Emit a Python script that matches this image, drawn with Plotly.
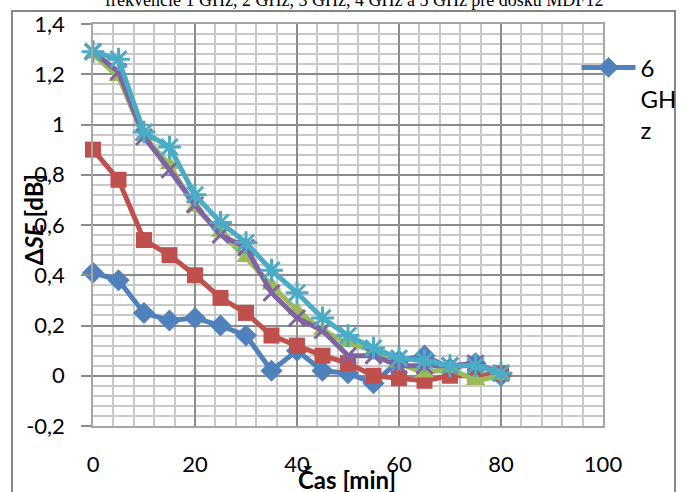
import plotly.graph_objects as go

time_min = [0, 5, 10, 15, 20, 25, 30, 35, 40, 45, 50, 55, 60, 65, 70, 75, 80]

s_6ghz = [0.41, 0.38, 0.25, 0.22, 0.23, 0.20, 0.16, 0.02, 0.10, 0.02, 0.01, -0.03, 0.06, 0.08, 0.03, 0.05, 0.00]
s_1ghz = [0.90, 0.78, 0.54, 0.48, 0.40, 0.31, 0.25, 0.16, 0.12, 0.08, 0.05, 0.00, -0.01, -0.02, 0.00, 0.00, 0.01]
s_2ghz = [1.28, 1.19, 0.95, 0.84, 0.67, 0.57, 0.47, 0.36, 0.26, 0.18, 0.13, 0.10, 0.05, 0.01, 0.03, -0.02, 0.00]
s_3ghz = [1.29, 1.21, 0.95, 0.82, 0.68, 0.56, 0.51, 0.33, 0.23, 0.18, 0.08, 0.08, 0.04, 0.04, 0.04, 0.05, 0.01]
s_4ghz = [1.29, 1.26, 0.97, 0.91, 0.72, 0.61, 0.53, 0.42, 0.33, 0.23, 0.16, 0.11, 0.07, 0.06, 0.04, 0.04, 0.01]

series_names = ["6<br>GH<br>z", "1 GHz", "2 GHz", "3 GHz", "4 GHz"]
series_values = [s_6ghz, s_1ghz, s_2ghz, s_3ghz, s_4ghz]
series_colors = ["#4F81BD", "#C0504D", "#9BBB59", "#8064A2", "#4BACC6"]
series_symbols = ["diamond", "square", "triangle-up", "x-thin-open", "asterisk-open"]
series_sizes = [17, 16, 17, 16, 19]

y_tickvals = [-0.2, 0, 0.2, 0.4, 0.6, 0.8, 1.0, 1.2, 1.4]
y_ticktext = ["-0,2", "0", "0,2", "0,4", "0,6", "0,8", "1", "1,2", "1,4"]
x_tickvals = [0, 20, 40, 60, 80, 100]
x_ticktext = ["0", "20", "40", "60", "80", "100"]

title_text = "frekvencie 1 GHz, 2 GHz, 3 GHz, 4 GHz a 5 GHz pre dosku MDF12"
x_title = "<b>Čas [min]</b>"
y_title = "<b>Δ<i>SE</i> [dB]</b>"

FONT = "Lato, 'Open Sans', sans-serif"

fig = go.Figure()
for i, (name, vals, col, sym, sz) in enumerate(
        zip(series_names, series_values, series_colors, series_symbols, series_sizes)):
    marker = dict(symbol=sym, size=sz, color=col)
    if sym.endswith("open"):
        marker["line"] = dict(color=col, width=3)
    fig.add_trace(go.Scatter(
        x=time_min, y=vals, name=name, mode="lines+markers",
        line=dict(color=col, width=5),
        marker=marker,
        showlegend=(i == 0),
        cliponaxis=False,
    ))

fig.update_layout(
    width=681, height=492,
    margin=dict(l=93, r=78, t=24, b=66, autoexpand=False),
    paper_bgcolor="white", plot_bgcolor="white",
    separators=",.",
    font=dict(family=FONT, size=22, color="black"),
    showlegend=True,
    legend=dict(x=0.948, y=0.947, xanchor="left", yanchor="top",
                bgcolor="rgba(0,0,0,0)", font=dict(size=24, family=FONT),
                itemwidth=54, valign="top", tracegroupgap=0),
)

fig.update_xaxes(
    range=[0, 100], tickvals=x_tickvals, ticktext=x_ticktext,
    showgrid=True, gridcolor="#8C8C8C", gridwidth=1.5,
    minor=dict(dtick=4, showgrid=True, gridcolor="#C8C8C8", gridwidth=1.5),
    showline=True, linecolor="#A6A6A6", linewidth=1.5, mirror=True,
    ticks="", ticklabelstandoff=18, zeroline=False, automargin=False,
    tickfont=dict(size=22, family=FONT),
)
fig.update_yaxes(
    range=[-0.2, 1.4], tickvals=y_tickvals, ticktext=y_ticktext,
    showgrid=True, gridcolor="#8C8C8C", gridwidth=1.5,
    minor=dict(dtick=0.04, tick0=0, showgrid=True, gridcolor="#C8C8C8", gridwidth=1.5),
    showline=True, linecolor="#A6A6A6", linewidth=1.5, mirror=True,
    ticks="outside", ticklen=10, tickcolor="#8C8C8C", tickwidth=1.5,
    ticklabelstandoff=12, zeroline=False, automargin=False,
    tickfont=dict(size=22, family=FONT),
)

# outer chart border
fig.add_shape(type="rect", xref="paper", yref="paper",
              x0=-0.1588, x1=1.1412, y0=-0.3, y1=1.0323,
              line=dict(color="#868686", width=2), fillcolor="rgba(0,0,0,0)", layer="above")

fig.add_annotation(text=title_text, xref="paper", yref="paper", x=0.512, y=1.0295,
                   xanchor="center", yanchor="bottom", showarrow=False,
                   font=dict(family="'Liberation Serif', 'DejaVu Serif', serif", size=18, color="black"))
fig.add_annotation(text=x_title, xref="paper", yref="paper", x=0.498, y=-0.132,
                   xanchor="center", yanchor="middle", showarrow=False,
                   font=dict(family=FONT, size=24, color="black"))
fig.add_annotation(text=y_title, xref="paper", yref="paper", x=-0.1175, y=0.512,
                   xanchor="center", yanchor="middle", showarrow=False, textangle=-90,
                   font=dict(family=FONT, size=24, color="black"))

fig.write_html("out.html", config={"displayModeBar": False},
               post_script="document.body.style.margin='0';document.body.style.overflow='hidden';")
